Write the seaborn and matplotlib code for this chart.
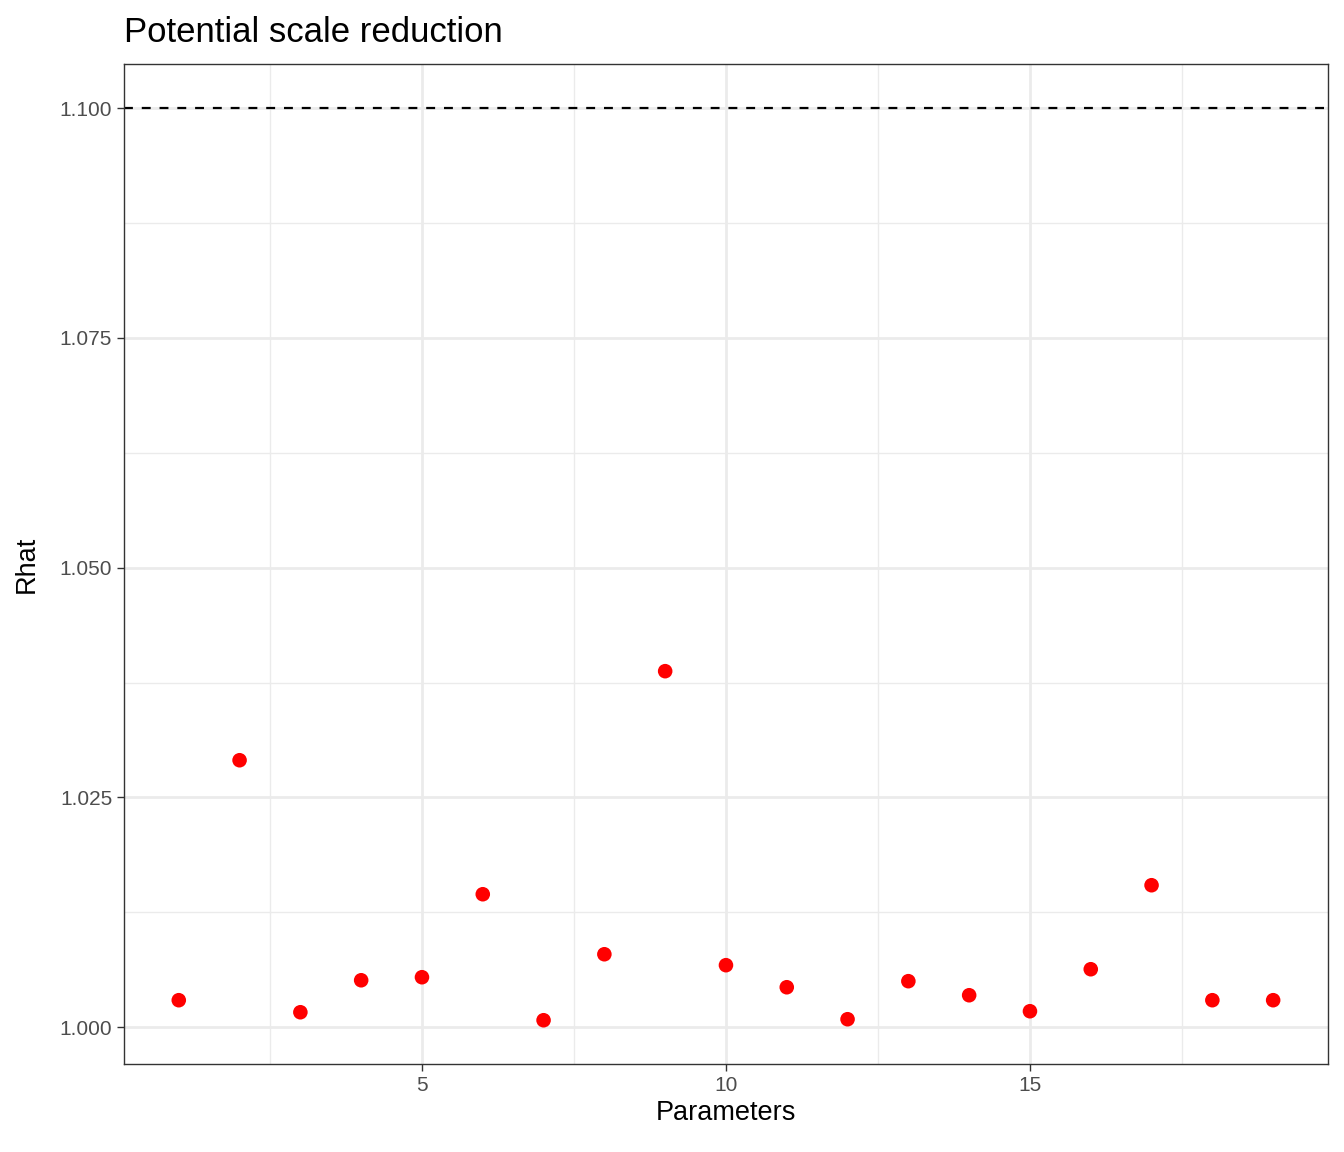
import matplotlib
matplotlib.use("Agg")
import matplotlib.pyplot as plt
import seaborn as sns
import pandas as pd
from matplotlib.ticker import FixedLocator

params = list(range(1, 20))
rhat = [1.00294, 1.02905, 1.00163, 1.00511, 1.00544, 1.01447, 1.00076, 1.00794,
        1.03874, 1.00675, 1.00435, 1.00087, 1.00501, 1.00348, 1.00174, 1.00631,
        1.01545, 1.00294, 1.00294]
threshold = 1.1

df = pd.DataFrame({"Parameters": params, "Rhat": rhat})

sns.set_theme(style="white")
plt.rcParams['font.family'] = ['Liberation Sans', 'DejaVu Sans']

fig = plt.figure(figsize=(13.44, 11.52), dpi=100)
ax = fig.add_axes([0.0923, 0.0764, 0.8957, 0.868])

sns.scatterplot(data=df, x="Parameters", y="Rhat", color="#FF0000", s=110,
                edgecolor="none", ax=ax, zorder=3)
ax.axhline(threshold, color="black", linestyle=(0, (4, 4)), linewidth=1.6, zorder=2)

ax.set_xlim(0.1, 19.9)
ax.set_ylim(0.996, 1.1048)
ax.xaxis.set_major_locator(FixedLocator([5, 10, 15]))
ax.xaxis.set_minor_locator(FixedLocator([2.5, 7.5, 12.5, 17.5]))
ax.yaxis.set_major_locator(FixedLocator([1.0, 1.025, 1.05, 1.075, 1.1]))
ax.yaxis.set_minor_locator(FixedLocator([1.0125, 1.0375, 1.0625, 1.0875]))
ax.set_yticklabels(["1.000", "1.025", "1.050", "1.075", "1.100"])
ax.grid(which="major", color="#EBEBEB", linewidth=2.0, zorder=0)
ax.grid(which="minor", color="#EBEBEB", linewidth=1.0, zorder=0)
ax.set_axisbelow(True)
for s in ax.spines.values():
    s.set_color("#333333")
    s.set_linewidth(1.0)
ax.tick_params(which="major", length=5, width=1, color="#333333",
               labelsize=15, labelcolor="#4D4D4D", left=True, bottom=True)
ax.tick_params(which="minor", length=0)
ax.set_xlabel("Parameters", fontsize=19.5, color="black")
ax.set_ylabel("Rhat", fontsize=19.5, color="black", labelpad=14)
ax.set_title("Potential scale reduction", fontsize=25, loc="left", pad=16, color="black")

fig.savefig("out.png", dpi=100)
